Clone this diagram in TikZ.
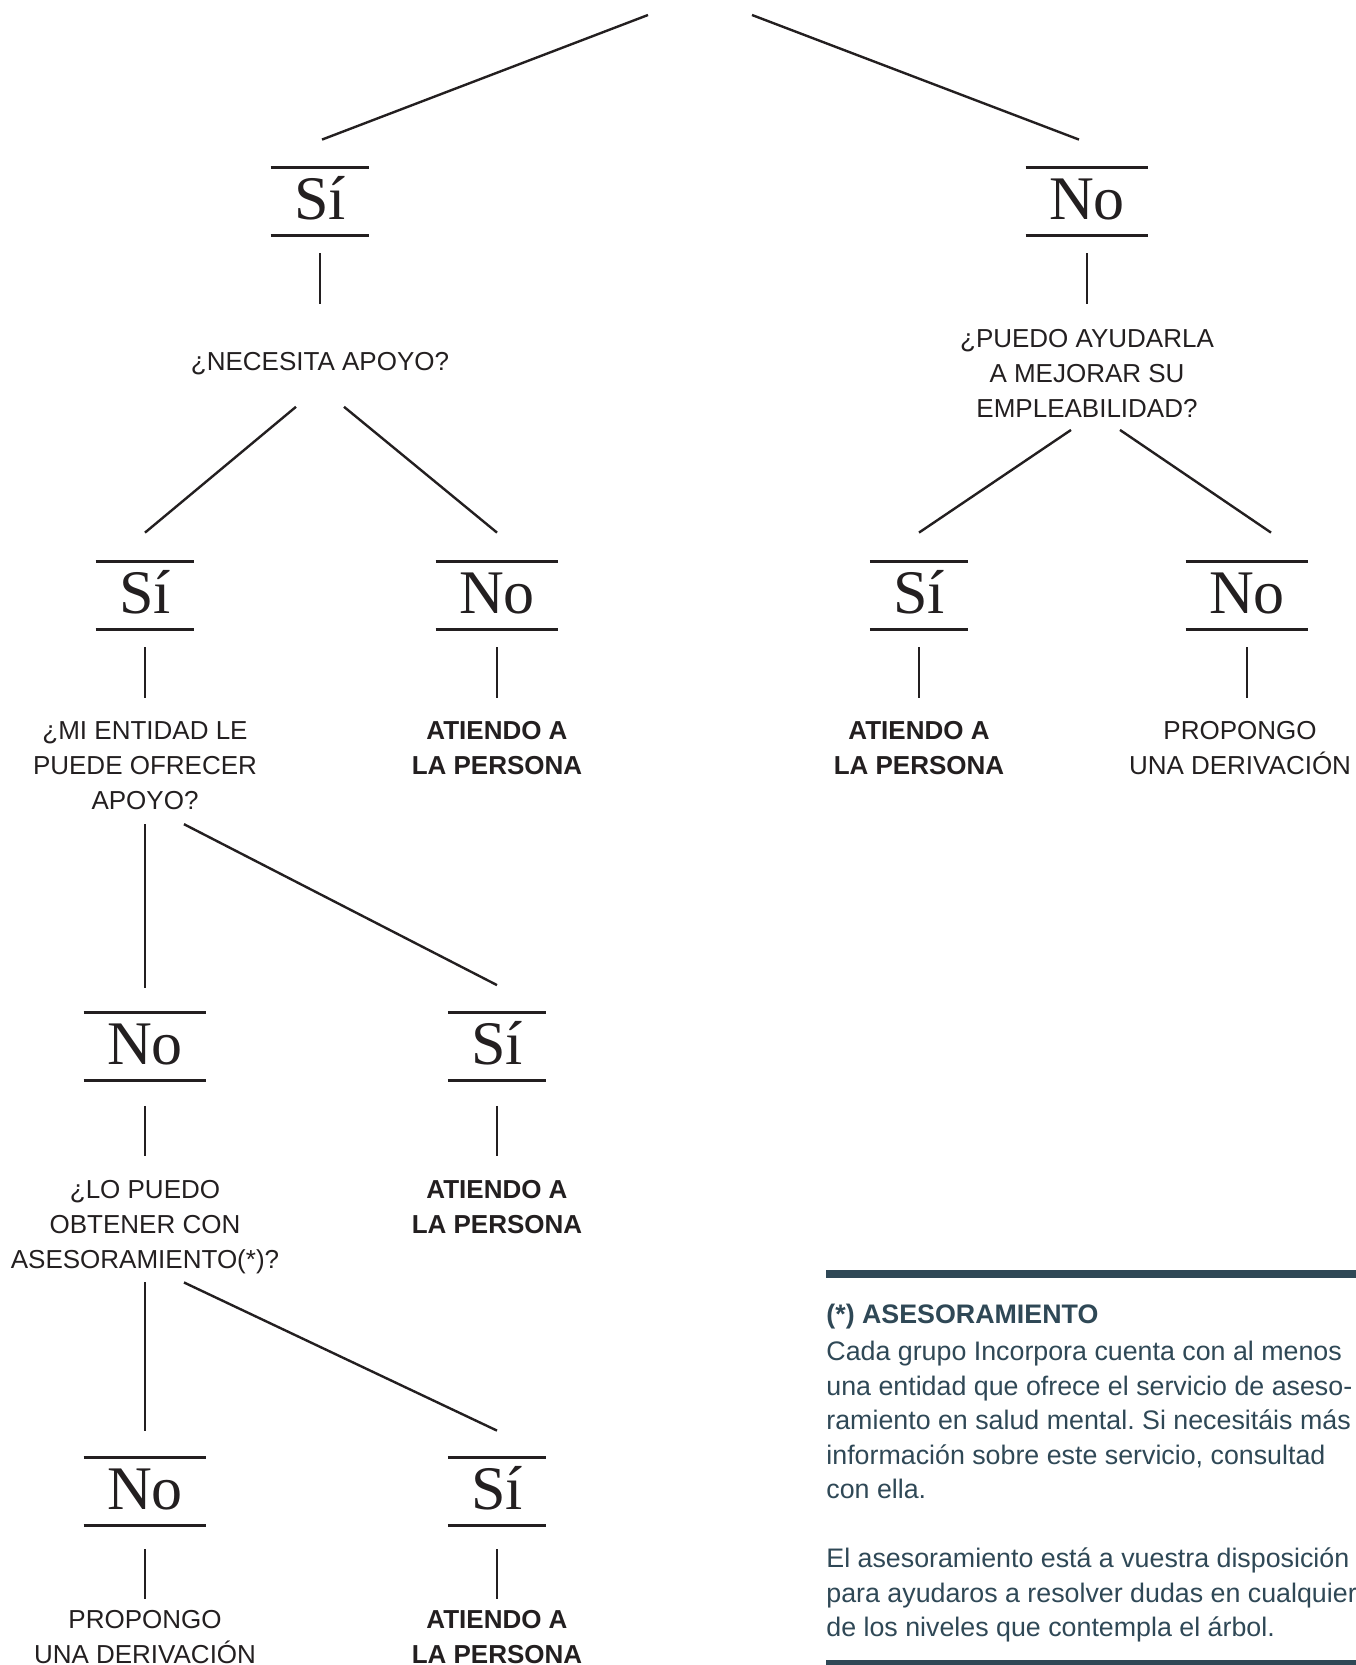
\documentclass[tikz,border=0pt]{standalone}
\usepackage{fontspec}
\setmainfont{Liberation Serif}
\setsansfont{Liberation Sans}
\usetikzlibrary{calc}
\definecolor{ink}{HTML}{231F20}
\definecolor{slate}{HTML}{2F4856}

\begin{document}
\begin{tikzpicture}[x=0.5pt,y=-0.5pt,
	answer/.style={font=\fontsize{31}{31}\selectfont,text=ink,text height=19.3pt,text depth=1pt,
		minimum height=33.5pt,inner ysep=0pt,inner xsep=11.5pt},
	rule/.style={draw=ink,line width=1.4pt},
	link/.style={draw=ink,line width=1.2pt},
	question/.style={font=\sffamily\fontsize{13}{17.5}\selectfont,text=ink,align=center,inner sep=0pt,
		anchor=north,execute at begin node=\strut,execute at end node=\strut},
	outcome/.style={question,font=\sffamily\bfseries\fontsize{13}{17.5}\selectfont},
	note/.style={font=\sffamily\fontsize{13.4}{17.25}\selectfont\frenchspacing,text=slate,align=left,inner sep=0pt,
		anchor=north west,execute at begin node=\strut}]
	\useasboundingbox (0,0) rectangle (1355,1665);

	\node[answer] (yes1) at (320,201.5) {Sí};
	\node[answer] (no1) at (1087,201.5) {No};
	\node[answer] (yes2) at (145,595.5) {Sí};
	\node[answer] (no2) at (497,595.5) {No};
	\node[answer] (yes2r) at (919,595.5) {Sí};
	\node[answer] (no2r) at (1247,595.5) {No};
	\node[answer] (no3) at (145,1046.5) {No};
	\node[answer] (yes3) at (497,1046.5) {Sí};
	\node[answer] (no4) at (145,1491.5) {No};
	\node[answer] (yes4) at (497,1491.5) {Sí};
	\foreach \n in {yes1,no1,yes2,no2,yes2r,no2r,no3,yes3,no4,yes4}
		\draw[rule] (\n.north west) -- (\n.north east) (\n.south west) -- (\n.south east);

	\node[question] (q1) at (320,345.5) {¿NECESITA APOYO?};
	\node[question] (qr) at (1087,329) {¿PUEDO AYUDARLA\\A MEJORAR SU\\EMPLEABILIDAD?};
	\node[question] (q2) at (145,721) {¿MI ENTIDAD LE\\PUEDE OFRECER\\APOYO?};
	\node[outcome] (out2) at (497,721) {ATIENDO A\\LA PERSONA};
	\node[outcome] (outr1) at (919,721) {ATIENDO A\\LA PERSONA};
	\node[question] (outr2) at (1240,721) {PROPONGO\\UNA DERIVACIÓN};
	\node[question] (q3) at (145,1179.5) {¿LO PUEDO\\OBTENER CON\\ASESORAMIENTO(*)?};
	\node[outcome] (out3) at (497,1179.5) {ATIENDO A\\LA PERSONA};
	\node[question] (out4l) at (145,1609.5) {PROPONGO\\UNA DERIVACIÓN};
	\node[outcome] (out4) at (497,1609.5) {ATIENDO A\\LA PERSONA};

	% top branches, coming from above the page
	\coordinate (topL) at (648,15);
	\coordinate (topR) at (752,15);
	\draw[link] (topL) -- ([xshift=1pt,yshift=14pt]yes1.north);
	\draw[link] (topR) -- ([xshift=-4pt,yshift=14pt]no1.north);
	\draw[link] ([yshift=-9pt]yes1.south) -- ([yshift=20.75pt]q1.north);
	\draw[link] ([yshift=-9pt]no1.south) -- ([yshift=12.5pt]qr.north);

	\draw[link] ([xshift=-12pt,yshift=-12.75pt]q1.south) -- ([yshift=14.5pt]yes2.north);
	\draw[link] ([xshift=12pt,yshift=-12.75pt]q1.south) -- ([yshift=14.5pt]no2.north);
	\draw[link] ([xshift=-8pt,yshift=-0.75pt]qr.south) -- ([yshift=14.5pt]yes2r.north);
	\draw[link] ([xshift=16.5pt,yshift=-0.75pt]qr.south) -- ([xshift=12pt,yshift=14.5pt]no2r.north);

	\draw[link] ([yshift=-9pt]yes2.south) -- ([yshift=11.5pt]q2.north);
	\draw[link] ([yshift=-9pt]no2.south) -- ([yshift=11.5pt]out2.north);
	\draw[link] ([yshift=-9pt]yes2r.south) -- ([yshift=11.5pt]outr1.north);
	\draw[link] ([yshift=-9pt]no2r.south) -- ($(no2r.south |- outr2.north)+(0,-23)$);

	\draw[link] ([yshift=-2pt]q2.south) -- ([yshift=12.5pt]no3.north);
	\draw[link] ([xshift=19.5pt,yshift=-2pt]q2.south) -- ([yshift=13.75pt]yes3.north);
	\draw[link] ([yshift=-12.75pt]no3.south) -- ([yshift=12pt]q3.north);
	\draw[link] ([yshift=-12.75pt]yes3.south) -- ([yshift=12pt]out3.north);

	\draw[link] ([yshift=-1.75pt]q3.south) -- ([yshift=13.5pt]no4.north);
	\draw[link] ([xshift=19.5pt,yshift=-1.75pt]q3.south) -- ([yshift=13.5pt]yes4.north);
	\draw[link] ([yshift=-12pt]no4.south) -- ([yshift=5.25pt]out4l.north);
	\draw[link] ([yshift=-12pt]yes4.south) -- ([yshift=5.25pt]out4.north);

	% note on advice
	\fill[slate] (826,1270) rectangle (1360,1278);
	\fill[slate] (826,1660) rectangle (1360,1670);
	\node[note] (advice) at (826,1303.4) {\textbf{(*) ASESORAMIENTO}\\[1.5pt]
		Cada grupo Incorpora cuenta con al menos\\
		una entidad que ofrece el servicio de aseso-\\
		ramiento en salud mental. Si necesitáis más\\
		información sobre este servicio, consultad\\
		con ella.\\[17.25pt]
		El asesoramiento está a vuestra disposición\\
		para ayudaros a resolver dudas en cualquiera\\
		de los niveles que contempla el árbol.};
\end{tikzpicture}
\end{document}
